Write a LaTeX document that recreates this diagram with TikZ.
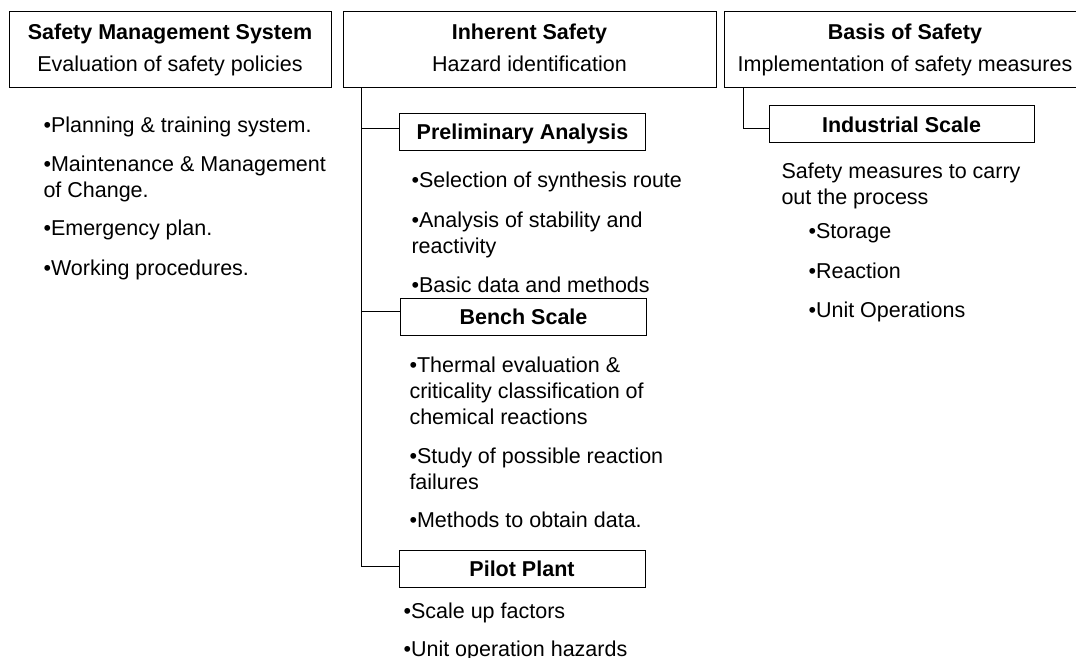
\documentclass[tikz,border=0pt]{standalone}
\usepackage{fontspec}
\setmainfont{Liberation Sans}
\usepackage{tikz}

\begin{document}
\begin{tikzpicture}[x=1pt, y=-1pt, line width=1pt,
        every node/.style={font=\fontsize{21.5}{26}\selectfont},
        head/.style={rectangle, draw, align=center, minimum height=76pt, inner sep=0pt},
        stage/.style={rectangle, draw, minimum width=246pt, minimum height=37pt, inner sep=0pt, text height=15.5pt, text depth=0pt, font=\fontsize{21.5}{26}\selectfont\bfseries},
        item/.style={anchor=base west, align=left, inner sep=0pt}]

        \useasboundingbox (0,0) rectangle (1076,658);

        \node (sms) [head, minimum width=322pt] at (170,50) {\textbf{Safety Management System}\\[6pt]Evaluation of safety policies};
        \node (inh) [head, minimum width=373pt] at (529.5,50) {\textbf{Inherent Safety}\\[6pt]Hazard identification\vphantom{y}};
        \node (bos) [head, minimum width=362pt] at (905,50) {\textbf{Basis of Safety}\\[6pt]Implementation of safety measures};

        \node (pre) [stage] at (522.5,132) {Preliminary Analysis};
        \node (bench) [stage] at (523.5,316.5) {Bench Scale};
        \node (pilot) [stage] at (522,569) {Pilot Plant};
        \node (ind) [stage, minimum width=265pt] at (901.5,124.5) {Industrial Scale};

        \coordinate (trunk) at ([xshift=19pt]inh.south west);
        \coordinate (trunk2) at ([xshift=20pt]bos.south west);
        \coordinate (prein) at ([yshift=3pt]pre.west);
        \coordinate (benchin) at ([yshift=5.5pt]bench.west);
        \coordinate (pilotin) at ([yshift=3pt]pilot.west);
        \coordinate (indin) at ([yshift=-4.5pt]ind.west);

        \draw (trunk) |- (pilotin);
        \draw (trunk |- prein) -- (prein);
        \draw (trunk |- benchin) -- (benchin);
        \draw (trunk2) |- (indin);

        % base anchor of a multi-line item = baseline of its last line
        \node (sms1) [item] at (43,132) {•Planning \& training system.};
        \node (sms2) [item] at (43,197) {•Maintenance \& Management\\of Change.};
        \node (sms3) [item] at (43,235) {•Emergency plan.};
        \node (sms4) [item] at (43,275) {•Working procedures.};

        \node (pre1) [item] at (411,187) {•Selection of synthesis route};
        \node (pre2) [item] at (411,253) {•Analysis of stability and\\reactivity};
        \node (pre3) [item] at (411,292) {•Basic data and methods};

        \node (bench1) [item] at (409,424) {•Thermal evaluation \&\\criticality classification of\\chemical reactions};
        \node (bench2) [item] at (409,489) {•Study of possible reaction\\failures};
        \node (bench3) [item] at (409,527) {•Methods to obtain data.};

        \node (pilot1) [item] at (403,618) {•Scale up factors};
        \node (pilot2) [item] at (403,656) {•Unit operation hazards};

        \node (ind0) [item] at (781,204) {Safety measures to carry\\out the process};
        \node (ind1) [item] at (808,238) {•Storage};
        \node (ind2) [item] at (808,278) {•Reaction};
        \node (ind3) [item] at (808,317) {•Unit Operations};
    \end{tikzpicture}
\end{document}
